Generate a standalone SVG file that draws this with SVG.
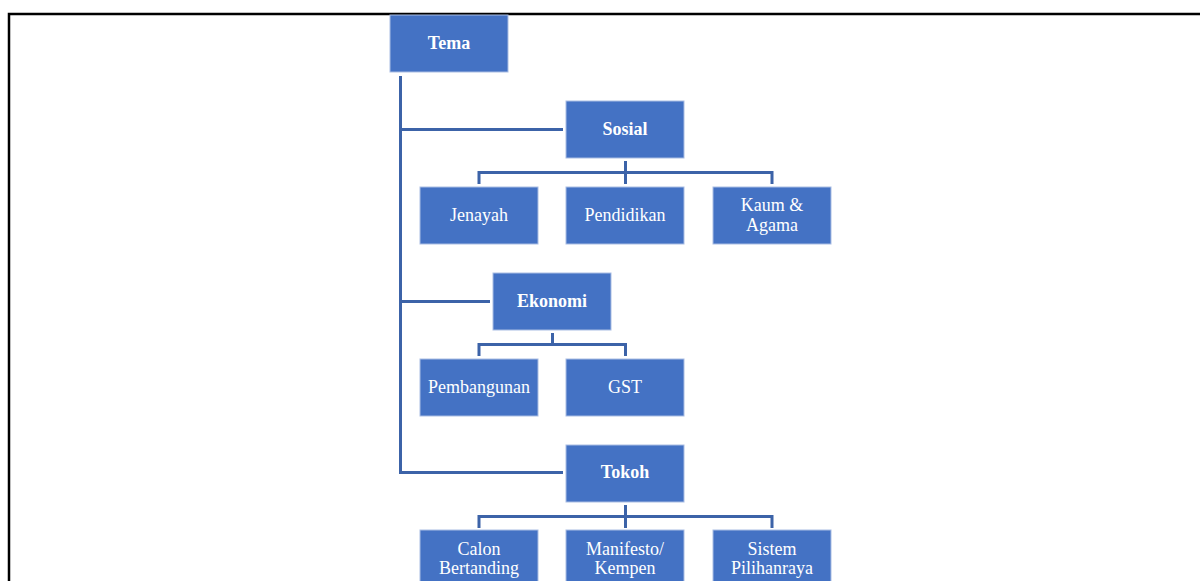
<svg xmlns="http://www.w3.org/2000/svg" width="1200" height="581" viewBox="0 0 1200 581">
<style>
.box{fill:#4472C4;stroke:#A9BDE3;stroke-width:1}
.t{font-family:"Liberation Serif","Times New Roman",serif;font-size:18px;fill:#ffffff;text-anchor:middle}
.b{font-weight:bold}
.c{fill:none;stroke:#3C63A8;stroke-width:3}
</style>
<rect width="1200" height="581" fill="#ffffff"/>
<path d="M9 581 V14 H1200" fill="none" stroke="#000000" stroke-width="2.5"/>
<g id="connectors">
<path class="c" d="M400.5 76 V472.5 H563"/>
<path class="c" d="M400.5 129.5 H563"/>
<path class="c" d="M400.5 301.5 H490"/>
<path class="c" d="M625.5 161 V172.5 M479 184 V172.5 H772 V184 M625.5 172.5 V184"/>
<path class="c" d="M552.5 333 V344.5 M479 356 V344.5 H625.5 V356"/>
<path class="c" d="M625.5 505 V516.5 M479 528 V516.5 H772 V528 M625.5 516.5 V528"/>
</g>
<g id="tema"><rect class="box" x="390" y="15" width="118" height="57"/><text class="t b" x="449" y="49">Tema</text></g>
<g id="sosial"><rect class="box" x="566" y="101" width="118" height="57"/><text class="t b" x="625" y="135">Sosial</text></g>
<g id="jenayah"><rect class="box" x="420" y="187" width="118" height="57"/><text class="t" x="479" y="221">Jenayah</text></g>
<g id="pendidikan"><rect class="box" x="566" y="187" width="118" height="57"/><text class="t" x="625" y="221">Pendidikan</text></g>
<g id="kaum"><rect class="box" x="713" y="187" width="118" height="57"/><text class="t" x="772" y="211">Kaum &amp;</text><text class="t" x="772" y="231">Agama</text></g>
<g id="ekonomi"><rect class="box" x="493" y="273" width="118" height="57"/><text class="t b" x="552" y="307">Ekonomi</text></g>
<g id="pembangunan"><rect class="box" x="420" y="359" width="118" height="57"/><text class="t" x="479" y="393">Pembangunan</text></g>
<g id="gst"><rect class="box" x="566" y="359" width="118" height="57"/><text class="t" x="625" y="393">GST</text></g>
<g id="tokoh"><rect class="box" x="566" y="445" width="118" height="57"/><text class="t b" x="625" y="478">Tokoh</text></g>
<g id="calon"><rect class="box" x="420" y="530" width="118" height="57"/><text class="t" x="479" y="555">Calon</text><text class="t" x="479" y="574">Bertanding</text></g>
<g id="manifesto"><rect class="box" x="566" y="530" width="118" height="57"/><text class="t" x="625" y="555">Manifesto/</text><text class="t" x="625" y="574">Kempen</text></g>
<g id="sistem"><rect class="box" x="713" y="530" width="118" height="57"/><text class="t" x="772" y="555">Sistem</text><text class="t" x="772" y="574">Pilihanraya</text></g>
</svg>
